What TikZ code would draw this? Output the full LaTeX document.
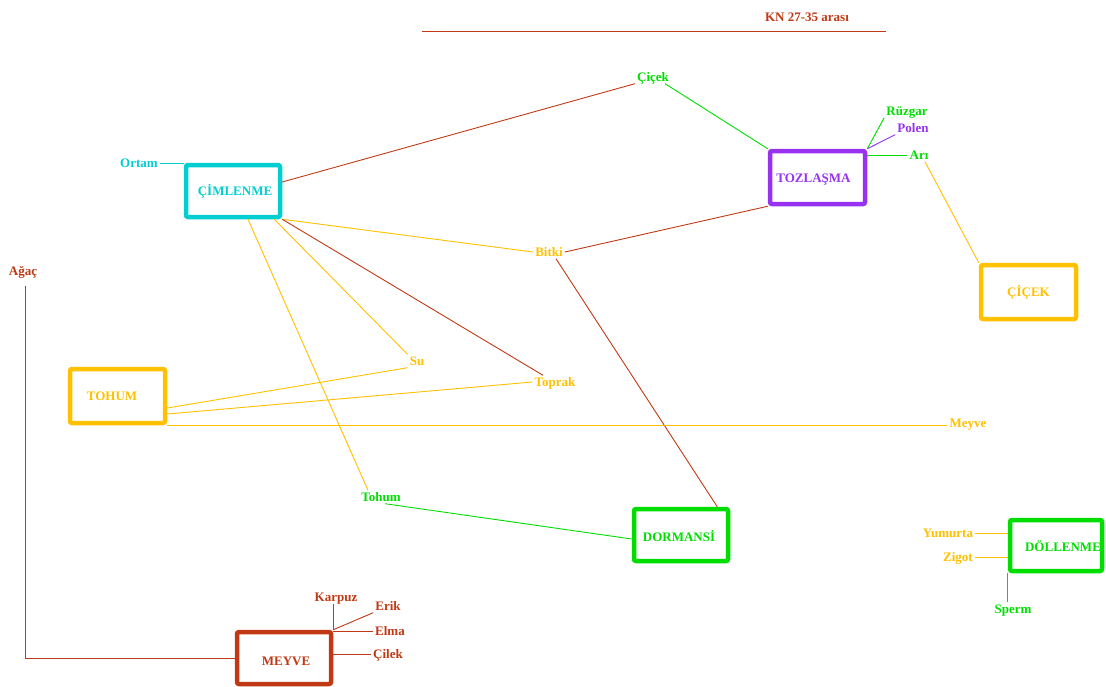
\documentclass[tikz,border=0pt]{standalone}
\usepackage{fontspec}
\setmainfont{Liberation Serif}
\begin{document}
\definecolor{rust}{RGB}{192,57,20}
\definecolor{teal}{RGB}{0,206,209}
\definecolor{violet}{RGB}{150,50,240}
\definecolor{gold}{RGB}{255,192,0}
\definecolor{leaf}{RGB}{0,222,0}
\begin{tikzpicture}[x=1pt,y=-1pt,
  every node/.style={font=\fontsize{13}{15}\selectfont\bfseries},
  word/.style={text=#1, inner sep=2pt, text height=9pt, text depth=0pt},
  frame/.style={draw=#1, line width=4.5pt, rounded corners=2pt, inner sep=0pt},
  link/.style={draw=#1, line width=0.9pt}]
\useasboundingbox (0,0) rectangle (1106,686);

% heading and rule
\node[word=rust] (title) at (807,17) {KN 27-35 arası};
\coordinate (ruleL) at (422,31);
\coordinate (ruleR) at (886,31);
\draw[link=rust] (ruleL) -- (ruleR);

% main boxes
\node[frame=teal, minimum width=94pt, minimum height=52pt] (cim) at (233,191) {};
\node[frame=violet, minimum width=95pt, minimum height=53pt] (toz) at (817.5,177.5) {};
\node[frame=gold, minimum width=95pt, minimum height=54pt] (cicekB) at (1028.5,292) {};
\node[frame=gold, minimum width=95pt, minimum height=54pt] (tohumB) at (117.5,396) {};
\node[frame=rust, minimum width=94pt, minimum height=52pt] (meyveB) at (284,658) {};
\node[frame=leaf, minimum width=94pt, minimum height=52pt] (dorm) at (681,535) {};
\node[frame=leaf, minimum width=92pt, minimum height=51pt] (dol) at (1056,545.5) {};

% box titles
\node[word=teal] (cimT) at ([xshift=2pt]cim.center) {ÇİMLENME};
\node[word=violet] (tozT) at ([xshift=-4pt]toz.center) {TOZLAŞMA};
\node[word=gold] (cicekBT) at (cicekB.center) {ÇİÇEK};
\node[word=gold] (tohumBT) at ([xshift=-5.5pt]tohumB.center) {TOHUM};
\node[word=rust] (meyveBT) at ([xshift=2pt,yshift=-3pt]meyveB.center) {MEYVE};
\node[word=leaf] (dormT) at ([xshift=-2pt,yshift=-2pt]dorm.center) {DORMANSİ};
\node[word=leaf] (dolT) at ([xshift=7pt,yshift=-1.5pt]dol.center) {DÖLLENME};

% keywords
\node[word=teal] (ortam) at (139,163) {Ortam};
\node[word=leaf] (cicekG) at (653,77) {Çiçek};
\node[word=leaf] (ruzgar) at (907,111) {Rüzgar};
\node[word=violet] (polen) at (913,128) {Polen};
\node[word=leaf] (ari) at (919,155) {Arı};
\node[word=gold] (bitki) at (549,252) {Bitki};
\node[word=gold] (su) at (417,361) {Su};
\node[word=gold] (toprak) at (555,382) {Toprak};
\node[word=gold] (meyveY) at (968,423) {Meyve};
\node[word=leaf] (tohumG) at (381,497) {Tohum};
\node[word=rust] (agac) at (23,271) {Ağaç};
\node[word=rust] (karpuz) at (336,597) {Karpuz};
\node[word=rust] (erik) at (388,606) {Erik};
\node[word=rust] (elma) at (390,631) {Elma};
\node[word=rust] (cilek) at (388,654) {Çilek};
\node[word=gold] (yum) at (948,533) {Yumurta};
\node[word=gold] (zig) at (958,557) {Zigot};
\node[word=leaf] (sperm) at (1013,609) {Sperm};

% links around ÇİMLENME
\draw[link=teal] (ortam.east) -- (ortam.east -| cim.west);
\draw[link=rust] ([yshift=9pt]cim.east) -- (cicekG.south west);
\draw[link=gold] (cim.south east) -- (bitki.west);
\draw[link=gold] ([xshift=-8pt]cim.south east) -- (su.north west);
\draw[link=rust] (cim.south east) -- ([xshift=-12pt]toprak.north);
\draw[link=gold] ([xshift=15pt]cim.south) -- ([xshift=-13pt]tohumG.north);

% links around TOZLAŞMA
\draw[link=leaf] ([xshift=-6pt]cicekG.south east) -- (toz.north west);
\draw[link=leaf] (toz.north east) -- (ruzgar.south west);
\draw[link=violet] (toz.north east) -- (polen.south west);
\draw[link=leaf] (ari.west -| toz.east) -- (ari.west);
\draw[link=gold] ([xshift=6pt]ari.south) -- (cicekB.north west);
\draw[link=rust] (bitki.east) -- (toz.south west);

% links to DORMANSİ
\draw[link=rust] ([xshift=7pt]bitki.south) -- ([xshift=-13pt]dorm.north east);
\draw[link=leaf] ([xshift=4pt]tohumG.south) -- ([yshift=-4pt]dorm.west);

% links from TOHUM
\draw[link=gold] ([yshift=-12pt]tohumB.east) -- (su.south west);
\draw[link=gold] ([yshift=-18pt]tohumB.east) -- (toprak.west);
\draw[link=gold] (tohumB.south east) -- (tohumB.south east -| meyveY.west);

% links around MEYVE
\draw[link=rust] ([xshift=2pt,yshift=-8pt]agac.south) -- ([xshift=2pt]agac.south |- meyveB.west) -- (meyveB.west);
\draw[link=rust] ([xshift=-3pt]karpuz.south) -- ([xshift=-3pt]karpuz.south |- meyveB.north);
\draw[link=rust] (erik.south west) -- (meyveB.north east);
\draw[link=rust] (elma.west) -- (elma.west -| meyveB.east);
\draw[link=rust] (cilek.west) -- (cilek.west -| meyveB.east);

% links around DÖLLENME
\draw[link=gold] (yum.east) -- (yum.east -| dol.west);
\draw[link=gold] (zig.east) -- (zig.east -| dol.west);
\draw[link=leaf] (dol.south west) -- (dol.south west |- sperm.north);
\end{tikzpicture}
\end{document}
